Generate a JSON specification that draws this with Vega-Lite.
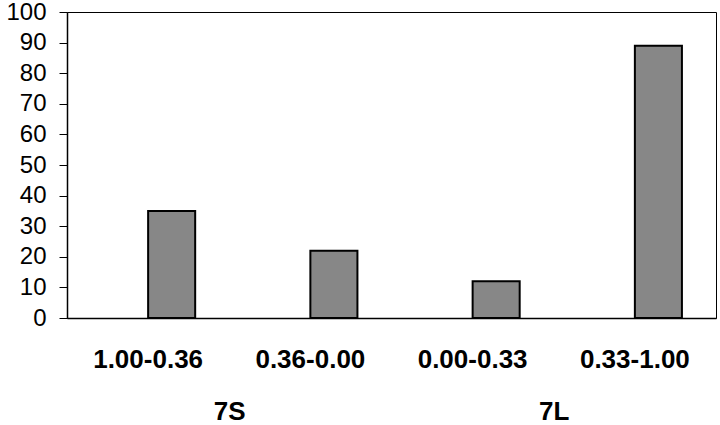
{
  "$schema": "https://vega.github.io/schema/vega-lite/v6.json",
  "autosize": {"type": "none"},
  "width": 649,
  "height": 306,
  "padding": {"left": 67, "top": 12, "right": 4, "bottom": 107},
  "background": "white",
  "config": {"view": {"stroke": "black", "strokeWidth": 1}, "font": "Liberation Sans"},
  "layer": [
    {
      "data": {"values": [
        {"range": "1.00-0.36", "group": "7S", "series": "b", "value": 35},
        {"range": "0.36-0.00", "group": "7S", "series": "b", "value": 22},
        {"range": "0.00-0.33", "group": "7L", "series": "b", "value": 12},
        {"range": "0.33-1.00", "group": "7L", "series": "b", "value": 89}
      ]},
      "mark": {"type": "bar", "fill": "#878787", "stroke": "black", "strokeWidth": 2},
      "encoding": {
        "x": {"field": "range", "type": "nominal", "sort": null,
          "scale": {"domain": ["1.00-0.36", "0.36-0.00", "0.00-0.33", "0.33-1.00"], "paddingInner": 0.42, "paddingOuter": 0.21},
          "axis": {"title": null, "orient": "bottom", "labelAngle": 0, "labelFont": "Liberation Sans", "labelFontSize": 26, "labelFontWeight": "bold", "labelColor": "black", "ticks": false, "labelPadding": 28, "domainColor": "black", "domainWidth": 1.5}},
        "xOffset": {"field": "series", "type": "nominal", "scale": {"domain": ["a", "b"]}},
        "y": {"field": "value", "type": "quantitative",
          "scale": {"domain": [0, 100], "nice": false},
          "axis": {"title": null, "values": [0, 10, 20, 30, 40, 50, 60, 70, 80, 90, 100], "grid": false, "tickSize": 8, "tickColor": "black", "domainColor": "black", "domainWidth": 1.5, "labelFont": "Liberation Sans", "labelFontSize": 24, "labelColor": "black", "labelPadding": 13}}
      }
    },
    {
      "data": {"values": [{"group": "7S"}, {"group": "7L"}]},
      "mark": {"type": "text", "opacity": 0},
      "encoding": {
        "x": {"field": "group", "type": "nominal", "sort": null,
          "scale": {"domain": ["7S", "7L"], "paddingInner": 0, "paddingOuter": 0},
          "axis": {"title": null, "orient": "bottom", "labelAngle": 0, "labelFont": "Liberation Sans", "labelFontSize": 26, "labelFontWeight": "bold", "labelColor": "black", "ticks": false, "domain": false, "labelPadding": 80}},
        "text": {"field": "group"}
      }
    }
  ],
  "resolve": {"scale": {"x": "independent"}, "axis": {"x": "independent"}}
}
